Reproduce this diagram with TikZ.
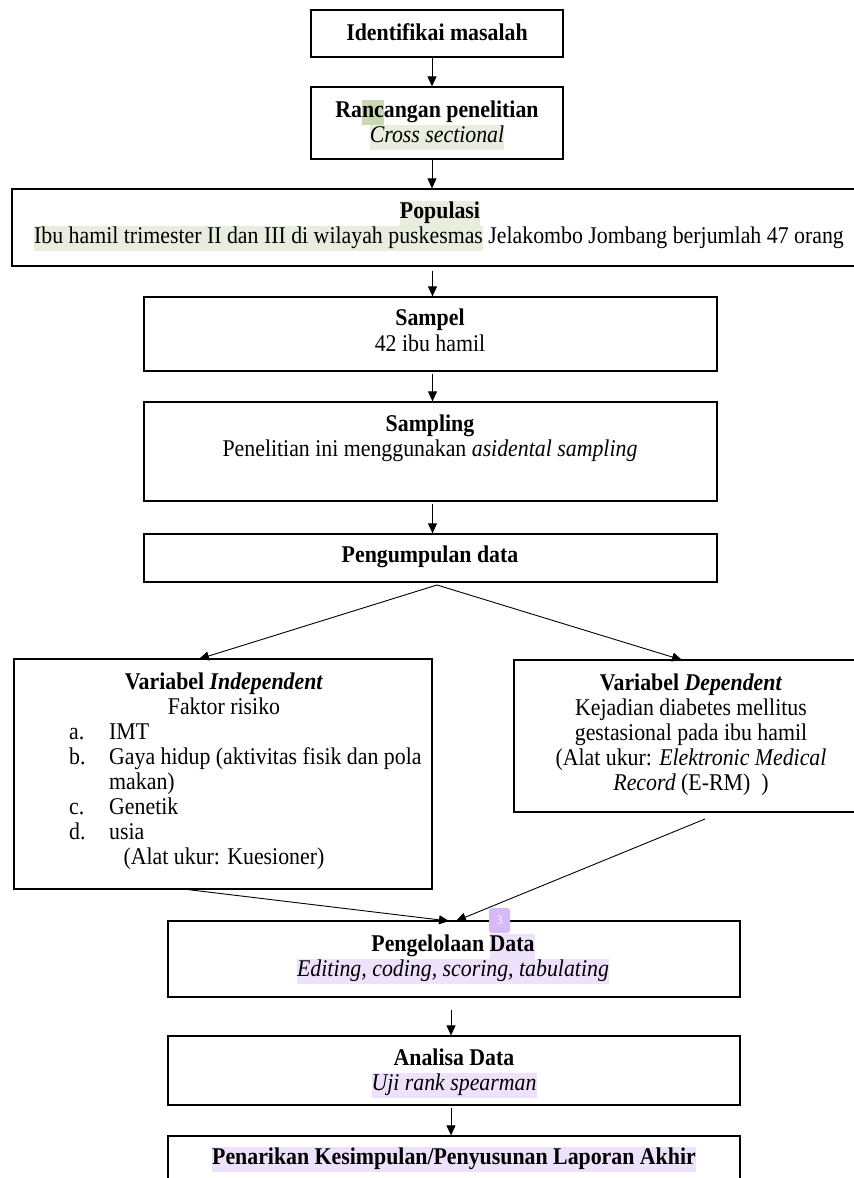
\documentclass[tikz,border=0pt]{standalone}
\usepackage{fontspec}
\setmainfont[FakeStretch=0.91]{Liberation Serif}
\usetikzlibrary{arrows.meta,calc}
\definecolor{hlg}{RGB}{232,237,222}
\definecolor{hlgd}{RGB}{200,216,178}
\definecolor{hlp}{RGB}{238,225,251}
\definecolor{markc}{RGB}{214,186,246}
\newcommand\hg[1]{{\setlength{\fboxsep}{0pt}\colorbox{hlg}{\strut #1}}}
\newcommand\hgd[1]{{\setlength{\fboxsep}{0pt}\colorbox{hlgd}{\strut #1}}}
\newcommand\hp[1]{{\setlength{\fboxsep}{0pt}\colorbox{hlp}{\strut #1}}}
\tikzset{
  box/.style={draw, line width=1.3pt, inner sep=0pt},
  txt/.style={inner sep=0pt, anchor=mid, yshift=-5pt, font=\fontsize{24}{25}\selectfont},
  txtl/.style={txt, anchor=mid west},
  arr/.style={line width=0.9pt, -{Triangle[length=10pt,width=9pt]}}
}
\begin{document}
\begin{tikzpicture}[x=1pt,y=-1pt]
\clip (0,0) rectangle (854,1178);
\fill[white] (0,0) rectangle (854,1178);
% boxes
\node[box, minimum width=252, minimum height=47] (b1) at (437,33.5) {};
\node[box, minimum width=252, minimum height=72] (b2) at (437,123) {};
\node[box, minimum width=858, minimum height=77] (pop) at (441,227.5) {};
\node[box, minimum width=573, minimum height=74] (samp) at (430.5,334) {};
\node[box, minimum width=573, minimum height=99] (smpl) at (430.5,451.5) {};
\node[box, minimum width=573, minimum height=48] (kump) at (430.5,558) {};
\node[box, minimum width=418, minimum height=230] (indep) at (223,774) {};
\node[box, minimum width=356, minimum height=152] (dep) at (692,736) {};
\node[box, minimum width=572, minimum height=76] (olah) at (454,959) {};
\node[box, minimum width=572, minimum height=69] (anal) at (454,1070.5) {};
\node[box, minimum width=572, minimum height=64] (akhir) at (454,1168) {};
% texts
\node[txt] (t1) at (437,33) {\textbf{Identifikai masalah}};
\node[txt] (t2a) at (437,110) {\textbf{Ra\hgd{nc}angan penelitian}};
\node[txt] (t2b) at (437,135) {\hg{\textit{Cross sectional}}};
\node[txt] (t3a) at (440,211) {\hg{\textbf{Populasi}}};
\node[txt] (t3b) at (439,236) {\hg{Ibu hamil trimester II dan III di wilayah puskesmas} Jelakombo Jombang berjumlah 47 orang};
\node[txt] (t4a) at (430,318) {\textbf{Sampel}};
\node[txt] (t4b) at (430,344) {42 ibu hamil};
\node[txt] (t5a) at (430,424) {\textbf{Sampling}};
\node[txt] (t5b) at (430,449) {Penelitian ini menggunakan \textit{asidental sampling}};
\node[txt] (t6) at (430,555) {\textbf{Pengumpulan data}};
% independent
\node[txt] (i1) at (224,682) {\textbf{Variabel \textit{Independent}}};
\node[txt] (i2) at (224,707) {Faktor risiko};
\node[txtl] (la) at (69,732) {a.};
\node[txtl] (ia) at (109,732) {IMT};
\node[txtl] (lb) at (69,757) {b.};
\node[txtl] (ib) at (109,757) {Gaya hidup (aktivitas fisik dan pola};
\node[txtl] (ib2) at (109,782) {makan)};
\node[txtl] (lc) at (69,807) {c.};
\node[txtl] (ic) at (109,807) {Genetik};
\node[txtl] (ld) at (69,832) {d.};
\node[txtl] (id) at (109,832) {usia};
\node[txt] (i3) at (224,857) {(Alat ukur: Kuesioner)};
% dependent
\node[txt] (d1) at (691,683) {\textbf{Variabel \textit{Dependent}}};
\node[txt] (d2) at (691,708) {Kejadian diabetes mellitus};
\node[txt] (d3) at (691,733) {gestasional pada ibu hamil};
\node[txt] (d4) at (691,758) {(Alat ukur: \textit{Elektronic Medical}};
\node[txt] (d5) at (691,783) {\textit{Record} (E-RM)~~)};
% bottom
\node[txt] (o1) at (453,944) {\textbf{Pengelolaan \hp{Data}}};
\node[txt] (o2) at (453,969) {\hp{\textit{Editing, coding, scoring, tabulating}}};
\node[txt] (a1) at (454,1058) {\textbf{Analisa Data}};
\node[txt] (a2) at (454,1083) {\hp{\textit{Uji rank spearman}}};
\node[txt] (k1) at (454,1157) {\hp{\textbf{Penarikan Kesimpulan/Penyusunan Laporan Akhir}}};
% comment marker
\node[fill=markc, rounded corners=3pt, minimum width=21, minimum height=25, inner sep=0pt,
      text=white, font=\fontsize{13}{13}\selectfont] (mk) at (499.5,920.5) {3};
% connectors
\draw[arr] ([xshift=-5]b1.south) -- ([xshift=-5]b2.north);
\draw[arr] ([xshift=-5]b2.south) -- ([xshift=-5]b2.south |- pop.north);
\draw[arr] ([xshift=2]samp.north |- pop.south) ++(0,4) -- ([xshift=2]samp.north);
\draw[arr] ([xshift=2]samp.south) ++(0,2) -- ([xshift=2]smpl.north);
\draw[arr] ([xshift=2]smpl.south) ++(0,2) -- ([xshift=2]kump.north);
\coordinate (split) at (437,585);
\coordinate (inTop) at (199,659);
\coordinate (depTop) at (682,660);
\draw[arr] (split) -- (inTop);
\draw[arr] (split) -- (depTop);
\coordinate (inBot) at (183,889);
\coordinate (depBot) at (705,819);
\coordinate (olahL) at (449,921);
\coordinate (olahR) at (456,921);
\draw[arr] (inBot) -- (olahL);
\draw[arr] (depBot) -- (olahR);
\draw[arr] ([xshift=-3,yshift=-12]olah.south) -- ([xshift=-3]anal.north);
\draw[arr] ([xshift=-3,yshift=-2]anal.south) -- ([xshift=-3]akhir.north);
\end{tikzpicture}
\end{document}
